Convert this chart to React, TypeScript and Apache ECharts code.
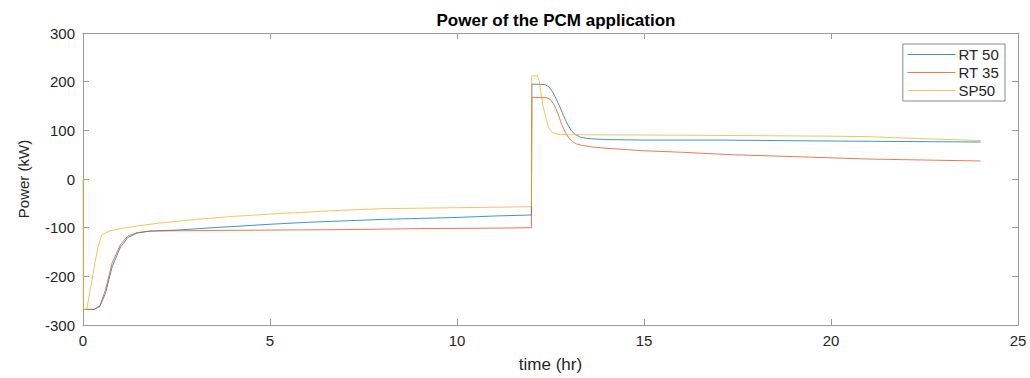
import React, { useEffect, useRef } from "react";
import * as echarts from "echarts";

const title = "Power of the PCM application";
const xLabel = "time (hr)";
const yLabel = "Power (kW)";
const seriesNames = ["RT 50", "RT 35", "SP50"];
const colors = ["#0072BD", "#D95319", "#EDB120"];

const rt50T = [0, 0.3, 0.45, 0.6, 0.78, 1.0, 1.2, 1.45, 1.8, 2.5, 3.5, 5, 6, 7, 8, 9, 10, 11, 11.99, 12.0, 12.35, 12.45, 12.55, 12.65, 12.75, 12.85, 12.95, 13.05, 13.15, 13.3, 13.5, 14, 15, 17, 20, 22, 24];
const rt50V = [-268, -268, -262, -235, -180, -140, -120, -111, -107, -105, -100, -93, -89, -86, -83, -81, -79, -76, -74, 195, 194, 190, 180, 165, 148, 130, 113, 100, 92, 86, 83, 81, 80, 80, 78, 77, 76];

const rt35T = [0, 0.3, 0.45, 0.6, 0.78, 1.0, 1.2, 1.45, 1.8, 3, 5, 7, 9, 11, 11.99, 12.0, 12.4, 12.5, 12.6, 12.7, 12.8, 12.9, 13.0, 13.1, 13.2, 13.35, 13.6, 14, 15, 16, 17.3, 19, 21, 22.5, 24];
const rt35V = [-268, -268, -260, -228, -172, -135, -117, -110, -107, -106, -105, -104, -102, -101, -100, 168, 167, 163, 152, 134, 112, 95, 83, 76, 72, 69, 66, 63, 58, 55, 50, 46, 41, 39, 37];

const sp50T = [0, 0.01, 0.1, 0.2, 0.3, 0.4, 0.5, 0.7, 1, 1.5, 2, 3, 4, 5, 6, 7, 8, 9, 11, 11.99, 12.0, 12.15, 12.2, 12.25, 12.3, 12.38, 12.45, 12.55, 12.7, 13, 16, 20, 21, 22, 24];
const sp50V = [0, -268, -268, -225, -180, -140, -115, -107, -102, -96, -91, -83, -77, -72, -68, -64, -61, -60, -58, -57, 212, 212, 200, 175, 150, 125, 105, 95, 92, 91, 90, 88, 87, 84, 79];

const xTicks = { min: 0, max: 25, interval: 5 };
const yTicks = { min: -300, max: 300, interval: 100 };

function pairs(t: number[], v: number[]) {
  return t.map((x, i) => [x, v[i]]);
}

export default function App() {
  const ref = useRef<HTMLDivElement>(null);
  useEffect(() => {
    if (!ref.current) return;
    const chart = echarts.init(ref.current, null, { renderer: "svg" });
    const boxColor = "#9a9a9a";
    const textColor = "#262626";
    const font = "Liberation Sans, Arial, sans-serif";
    const data = [pairs(rt50T, rt50V), pairs(rt35T, rt35V), pairs(sp50T, sp50V)];
    const boxAxis = {
      axisLine: { show: true, onZero: false, lineStyle: { color: boxColor, width: 1 } },
      axisTick: { show: true, inside: true, length: 6, lineStyle: { color: boxColor } },
      splitLine: { show: false },
    };
    chart.setOption({
      animation: false,
      backgroundColor: "#ffffff",
      title: {
        text: title,
        left: 551,
        textAlign: "center",
        top: 7,
        textStyle: { fontSize: 17, fontWeight: "bold", color: "#000", fontFamily: font },
      },
      legend: {
        right: 25,
        top: 44,
        orient: "vertical",
        backgroundColor: "#fff",
        borderColor: "#8a8a8a",
        borderWidth: 1,
        padding: [3, 6, 3, 4],
        itemGap: 3,
        itemWidth: 48,
        itemHeight: 14,
        itemStyle: { opacity: 0 },
        lineStyle: { width: 1.2, opacity: 0.75 },
        textStyle: { fontSize: 15, color: textColor, fontFamily: font, padding: [0, 0, 0, -2] },
        data: seriesNames,
      },
      grid: { left: 83, right: 12, top: 33, bottom: 48, containLabel: false },
      xAxis: [
        {
          type: "value",
          ...xTicks,
          ...boxAxis,
          name: xLabel,
          nameLocation: "middle",
          nameGap: 31,
          nameTextStyle: { fontSize: 17, color: textColor, fontFamily: font },
          axisLabel: { fontSize: 15, color: textColor, fontFamily: font, margin: 8 },
        },
        {
          type: "value",
          position: "top",
          ...xTicks,
          ...boxAxis,
          axisLabel: { show: false },
        },
      ],
      yAxis: [
        {
          type: "value",
          ...yTicks,
          ...boxAxis,
          name: yLabel,
          nameLocation: "middle",
          nameGap: 52,
          nameRotate: 90,
          nameTextStyle: { fontSize: 15, color: textColor, fontFamily: font },
          axisLabel: { fontSize: 15, color: textColor, fontFamily: font, margin: 8 },
        },
        {
          type: "value",
          position: "right",
          ...yTicks,
          ...boxAxis,
          axisLabel: { show: false },
        },
      ],
      series: seriesNames.map((name, i) => ({
        name,
        type: "line",
        data: data[i],
        xAxisIndex: 0,
        yAxisIndex: 0,
        showSymbol: false,
        symbol: "none",
        smooth: false,
        color: colors[i],
        lineStyle: { width: 1, color: colors[i], opacity: 0.75 },
        z: 2 + i,
      })),
    });
    return () => chart.dispose();
  }, []);
  return (
    <div
      ref={ref}
      style={{ position: "fixed", left: 0, top: 0, width: 1030, height: 378, background: "#fff" }}
    />
  );
}
